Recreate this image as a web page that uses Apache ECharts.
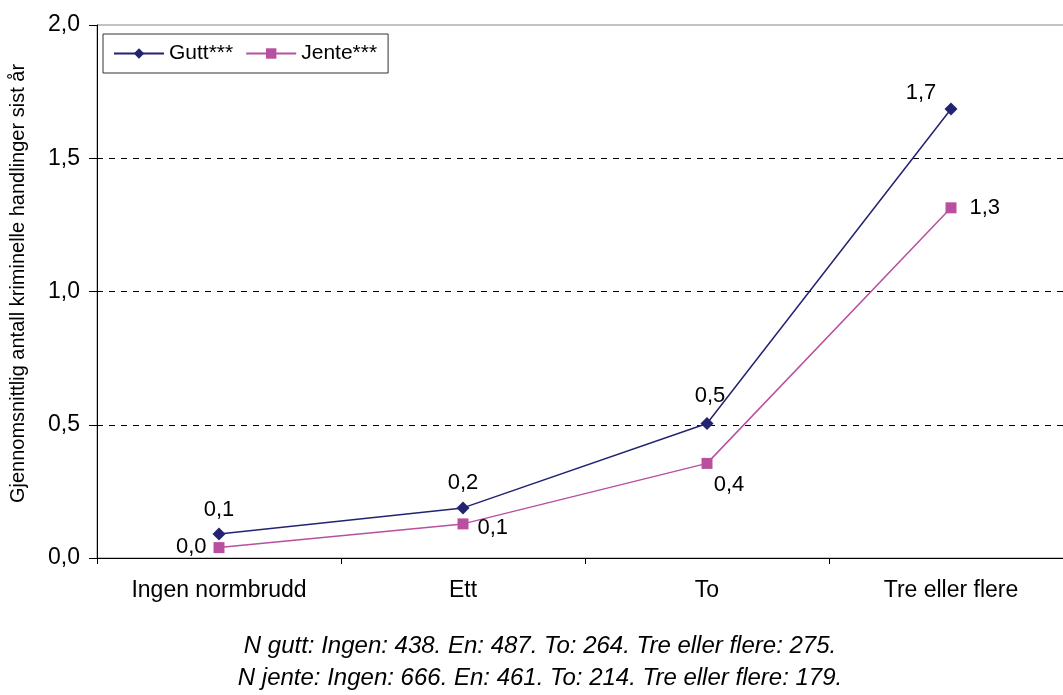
<!DOCTYPE html>
<html>
<head>
<meta charset="utf-8">
<script src="https://cdn.jsdelivr.net/npm/echarts@6/dist/echarts.min.js"></script>
<style>
  html, body { margin: 0; padding: 0; background: #fff; overflow: hidden; }
  #chart { width: 1080px; height: 695px; }
</style>
</head>
<body>
<div id="chart"></div>
<script>
var categories = ['Ingen normbrudd', 'Ett', 'To', 'Tre eller flere'];
var gutt = [0.09, 0.188, 0.505, 1.685];
var jente = [0.039, 0.128, 0.355, 1.314];
var yTicks = [0, 0.5, 1.0, 1.5, 2.0];

// label placement for each point, as in the original figure
var guttLabelPos = [
  { position: 'top', offset: [0, -2] },
  { position: 'top', offset: [0, -2] },
  { position: 'top', offset: [3, -5] },
  { position: 'top', offset: [-30, 6] }
];
var jenteLabelPos = [
  { position: 'left', offset: [-2, -1] },
  { position: 'right', offset: [4, 4] },
  { position: 'bottom', offset: [22, 0] },
  { position: 'right', offset: [8, 0] }
];

function fmt(v) {
  return v.toFixed(1).replace('.', ',');
}

function buildData(values, pos) {
  return values.map(function (v, i) {
    return { value: v, label: pos[i] };
  });
}

var font = 'Liberation Sans, Arial, sans-serif';
var chart = echarts.init(document.getElementById('chart'));
var option = {
  animation: false,
  textStyle: { fontFamily: font },
  grid: {
    left: 97, top: 25, bottom: 137, width: 976,
    show: true, borderColor: '#888', borderWidth: 1
  },
  legend: {
    left: 103, top: 34,
    padding: [9, 11, 9, 10],
    borderColor: '#333', borderWidth: 1,
    itemWidth: 50, itemHeight: 13, itemGap: 12,
    textStyle: { fontSize: 21, color: '#000' },
    data: ['Gutt***', 'Jente***']
  },
  xAxis: {
    type: 'category',
    data: categories,
    boundaryGap: true,
    axisLine: { lineStyle: { color: '#000', width: 1 } },
    axisTick: { show: true, length: 6, lineStyle: { color: '#000' } },
    axisLabel: { fontSize: 23, color: '#000', margin: 21 }
  },
  yAxis: {
    type: 'value',
    min: yTicks[0], max: yTicks[yTicks.length - 1], interval: 0.5,
    name: 'Gjennomsnittlig antall kriminelle handlinger sist år',
    nameLocation: 'middle', nameGap: 69, nameRotate: 90,
    nameTextStyle: { fontSize: 20, color: '#000', padding: [0, 0, 0, 16] },
    axisLine: { show: true, lineStyle: { color: '#000', width: 1 } },
    axisTick: { show: true, length: 8, lineStyle: { color: '#000' } },
    axisLabel: {
      fontSize: 23, color: '#000', margin: 17,
      formatter: function (v) { return fmt(v); }
    },
    splitLine: {
      show: true, showMinLine: false, showMaxLine: false,
      lineStyle: { color: '#000', type: [6, 6], width: 1 }
    }
  },
  series: [
    {
      name: 'Gutt***',
      type: 'line',
      data: buildData(gutt, guttLabelPos),
      symbol: 'diamond', symbolSize: 13,
      itemStyle: { color: '#232371' },
      lineStyle: { color: '#232371', width: 1.5 },
      label: {
        show: true, fontSize: 22, color: '#000',
        formatter: function (p) { return fmt(p.value); }
      }
    },
    {
      name: 'Jente***',
      type: 'line',
      data: buildData(jente, jenteLabelPos),
      symbol: 'rect', symbolSize: 11,
      itemStyle: { color: '#B8509F' },
      lineStyle: { color: '#B8509F', width: 1.5 },
      label: {
        show: true, fontSize: 22, color: '#000',
        formatter: function (p) { return fmt(p.value); }
      }
    }
  ],
  graphic: [
    {
      type: 'text', x: 540, y: 646,
      style: {
        text: 'N gutt: Ingen: 438. En: 487. To: 264. Tre eller flere: 275.',
        font: 'italic 24px ' + font, fill: '#000',
        align: 'center', verticalAlign: 'middle'
      }
    },
    {
      type: 'text', x: 540, y: 678,
      style: {
        text: 'N jente: Ingen: 666. En: 461. To: 214. Tre eller flere: 179.',
        font: 'italic 24px ' + font, fill: '#000',
        align: 'center', verticalAlign: 'middle'
      }
    }
  ]
};
chart.setOption(option);
</script>
</body>
</html>
